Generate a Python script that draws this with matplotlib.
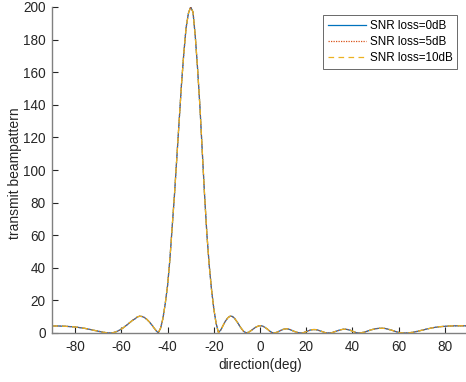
import matplotlib
matplotlib.use("Agg")
import matplotlib.pyplot as plt
import numpy as np

plt.rcParams['font.family'] = ['Liberation Sans', 'DejaVu Sans']
plt.rcParams['axes.unicode_minus'] = False

# direction grid (deg) and beampattern values
angles = list(range(-90, 91))
beam_0dB = [
    # -90 .. -81
    4.3, 4.3, 4.3, 4.3, 4.2, 4.2, 4.1, 4.0, 3.9, 3.8,
    # -80 .. -71
    3.7, 3.5, 3.3, 3.1, 2.9, 2.6, 2.3, 2.0, 1.7, 1.4,
    # -70 .. -61
    1.1, 0.8, 0.5, 0.3, 0.1, 0.0, 0.1, 0.4, 0.9, 1.6,
    # -60 .. -51
    2.4, 3.4, 4.5, 5.6, 6.8, 7.9, 8.8, 9.9, 10.3, 10.1,
    # -50 .. -41
    9.5, 8.4, 7.0, 5.3, 3.4, 1.5, 0.1, 3.0, 9.0, 18.0,
    # -40 .. -31
    29.0, 45.0, 65.0, 85.0, 107.0, 130.0, 152.0, 171.0, 187.0, 196.0,
    # -30 .. -21
    200.0, 197.0, 182.0, 162.0, 139.0, 112.0, 85.0, 61.0, 42.0, 27.0,
    # -20 .. -11
    15.0, 6.0, 0.3, 1.8, 4.5, 7.2, 9.2, 10.3, 10.2, 9.0,
    # -10 .. -1
    7.0, 4.8, 2.6, 0.9, 0.1, 0.4, 1.3, 2.4, 3.4, 4.1,
    # 0 .. 9
    4.5, 4.3, 3.6, 2.6, 1.4, 0.4, 0.0, 0.3, 0.9, 1.6,
    # 10 .. 19
    2.2, 2.6, 2.5, 2.1, 1.5, 0.9, 0.4, 0.1, 0.0, 0.3,
    # 20 .. 29
    0.8, 1.4, 1.9, 2.1, 2.1, 1.8, 1.3, 0.8, 0.3, 0.05,
    # 30 .. 39
    0.0, 0.2, 0.6, 1.1, 1.6, 2.0, 2.3, 2.3, 2.1, 1.7,
    # 40 .. 49
    1.1, 0.5, 0.1, 0.0, 0.2, 0.5, 0.9, 1.4, 1.9, 2.3,
    # 50 .. 59
    2.6, 2.8, 2.9, 2.9, 2.8, 2.5, 2.1, 1.7, 1.2, 0.8,
    # 60 .. 69
    0.4, 0.15, 0.03, 0.0, 0.05, 0.2, 0.4, 0.7, 1.0, 1.3,
    # 70 .. 79
    1.7, 2.0, 2.4, 2.7, 3.0, 3.3, 3.5, 3.7, 3.9, 4.0,
    # 80 .. 90
    4.1, 4.2, 4.3, 4.3, 4.4, 4.4, 4.4, 4.4, 4.4, 4.4, 4.4,
]
beam_5dB = list(beam_0dB)
beam_10dB = list(beam_0dB)

labels = ['SNR loss=0dB', 'SNR loss=5dB', 'SNR loss=10dB']
xticks = [-80, -60, -40, -20, 0, 20, 40, 60, 80]
yticks = list(range(0, 201, 20))

W, H = 466, 382
fig = plt.figure(figsize=(W / 100, H / 100), dpi=100)
ax = fig.add_axes([52 / W, 49 / H, 416 / W, 326 / H])

ax.plot(angles, beam_0dB, color='#0072BD', lw=0.9, ls='-', label=labels[0])
ax.plot(angles, beam_5dB, color='#D95319', lw=0.9, ls=(0, (1, 1)), label=labels[1])
ax.plot(angles, beam_10dB, color='#EDB120', lw=0.9, ls=(0, (4.5, 3.5)), label=labels[2])

ax.set_xlim(-90, 90)
ax.set_ylim(0, 200)
ax.set_xticks(xticks)
ax.set_yticks(yticks)

axcol = '#262626'
for s in ['top', 'right']:
    ax.spines[s].set_visible(False)
for s in ['left', 'bottom']:
    ax.spines[s].set_color('#808080')
    ax.spines[s].set_linewidth(1.0)
ax.tick_params(direction='in', length=4, width=0.8, color=axcol,
               labelcolor=axcol, labelsize=9.8)
ax.tick_params(axis='y', pad=4.5)
ax.tick_params(axis='x', pad=5)

ax.set_xlabel('direction(deg)', fontsize=9.8, color=axcol, labelpad=3)
ax.set_ylabel('transmit beampattern', fontsize=10.0, color=axcol)
ax.yaxis.set_label_coords(-0.072, 0.49)

leg = ax.legend(loc='upper right', bbox_to_anchor=((457 - 52) / 416, (333 - 15) / 326),
                borderaxespad=0, fontsize=8.4, frameon=True, fancybox=False,
                handlelength=3.3, handletextpad=0.3, labelspacing=0.35,
                borderpad=0.4)
leg.get_frame().set_edgecolor('#262626')
leg.get_frame().set_linewidth(0.6)
for t in leg.get_texts():
    t.set_color('#000000')

fig.savefig('out.png', dpi=100)
